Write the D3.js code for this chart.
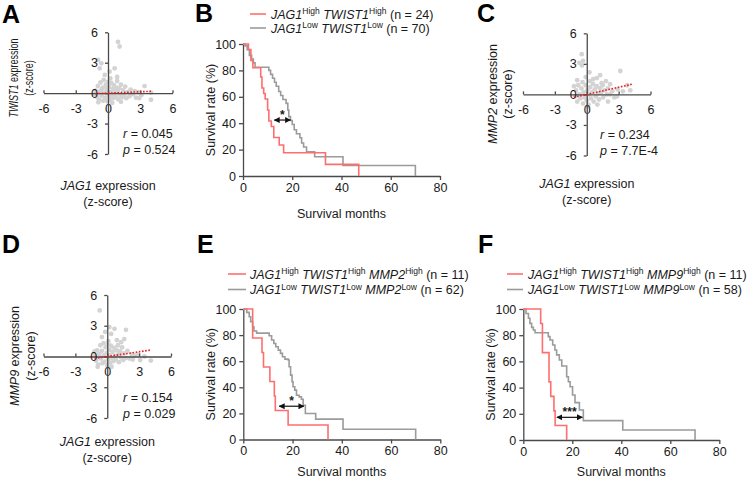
<!DOCTYPE html>
<html>
<head>
  <meta charset="utf-8">
  <title>JAG1 / TWIST1 correlation and survival</title>
  <script src="https://cdn.jsdelivr.net/npm/d3@7"></script>
  <style>
    body { margin: 0; background: #fff; }
    svg text { white-space: pre; }
  </style>
</head>
<body>
<svg id="fig" width="750" height="478"></svg>
<script>
// ---- scatter data (JAG1 z-score, target gene z-score) ----
var zTicks = [-6, -3, 0, 3, 6];

var scatterA = [
  [0.93,5.06],[1.08,4.6],[-0.93,3.27],[-0.62,2.94],[-0.77,2.45],[0.62,2.45],[0.15,2.12],[-0.3,1.8],[0.22,1.45],[0.85,1.6],
  [-1.15,0.25],[-1.05,-0.35],[-0.95,0.7],[-0.85,-0.65],[-0.75,0.15],[-0.7,1.05],[-0.6,-0.25],[-0.5,0.55],[-0.45,-0.75],[-0.4,1.3],
  [-0.3,0.05],[-0.25,-0.45],[-0.2,0.85],[-0.1,0.35],[-0.05,-0.8],[0.0,1.1],[0.05,-0.3],[0.1,0.6],[0.2,0.1],[0.25,-0.6],
  [0.3,1.0],[0.35,-0.2],[0.45,0.4],[0.5,-0.5],[0.55,0.8],[0.65,0.0],[0.7,-0.35],[0.75,0.55],[0.85,1.2],[0.9,0.2],
  [0.95,-0.6],[1.05,0.5],[1.1,-0.15],[1.2,0.85],[1.3,-0.4],[1.4,0.3],[1.5,-0.2],[1.6,0.65],[1.7,-0.5],[1.8,0.1],
  [2.0,-0.3],[2.1,0.35],[2.3,-0.1],[2.5,0.2],[2.6,-0.45],[2.8,0.1],[2.9,-0.5],[3.1,-0.2],[3.4,0.7],[4.0,0.05],[4.0,-0.65],
  [-1.2,-0.1],[-0.9,-0.9],[0.4,-0.95],[1.2,-0.85],[-0.6,0.35],[0.1,-0.1],[0.6,0.25],[-0.15,0.55]
];
var scatterC = [
  [-0.47,3.95],[-0.7,3.1],[-0.35,3.3],[-0.45,2.85],[0.25,2.17],[1.26,1.9],[0.95,1.6],[3.16,2.3],[1.4,1.1],[0.6,1.5],
  [-0.1,1.7],[0.3,1.3],[1.8,1.3],[2.2,1.0],[-1.1,-0.2],[-1.0,0.4],[-0.9,-0.7],[-0.8,0.9],[-0.7,0.0],[-0.6,-0.4],
  [-0.5,0.6],[-0.4,1.2],[-0.35,-0.9],[-0.3,0.2],[-0.2,-0.3],[-0.1,0.9],[0.0,-0.6],[0.05,0.4],[0.15,-1.0],[0.2,0.0],
  [0.3,0.7],[0.4,-0.4],[0.5,0.2],[0.6,1.0],[0.65,-0.7],[0.75,0.5],[0.85,-0.2],[0.95,0.8],[1.05,0.1],[1.15,-0.5],
  [1.25,0.6],[1.35,0.2],[1.5,0.9],[1.55,-0.3],[1.7,0.4],[1.9,0.0],[2.0,0.6],[2.2,0.0],[2.4,0.3],[2.6,-0.3],
  [2.85,-0.2],[2.9,0.5],[3.4,0.3],[3.8,0.9],[4.1,0.4],[-0.9,1.4],[0.1,-1.2],[1.0,-1.0],[2.0,-0.7],[-1.2,0.8]
];
var scatterD = [
  [-0.71,4.5],[0.2,2.87],[0.68,2.7],[1.76,2.6],[-0.5,1.9],[0.37,2.2],[1.6,1.7],[-0.2,2.4],[0.9,1.6],[0.1,1.5],
  [-1.15,0.1],[-1.05,-0.4],[-0.95,0.6],[-0.85,-0.8],[-0.75,0.25],[-0.65,1.1],[-0.6,-0.2],[-0.5,0.55],[-0.45,-0.65],[-0.35,1.3],
  [-0.3,0.1],[-0.25,-0.5],[-0.15,0.9],[-0.05,0.35],[0.0,-0.85],[0.05,1.15],[0.1,-0.25],[0.2,0.65],[0.25,0.1],[0.3,-0.6],
  [0.35,1.05],[0.45,-0.15],[0.5,0.45],[0.6,-0.45],[0.65,0.85],[0.75,0.05],[0.8,-0.3],[0.9,0.6],[1.0,1.1],[1.05,0.2],
  [1.1,-0.55],[1.2,0.5],[1.3,-0.1],[1.4,0.9],[1.5,-0.35],[1.6,0.3],[1.75,-0.15],[1.9,0.55],[2.1,-0.2],[2.3,0.2],
  [2.4,-0.3],[2.6,0.1],[2.9,0.2],[3.1,-0.35],[3.5,0.0],[4.1,-0.4],[-0.9,-1.0],[0.4,-1.0],[-1.2,0.5],[1.3,1.4]
];
var corrR = [0.045, 0.234, 0.154];
var corrRText = ["0.045", "0.234", "0.154"];
var corrPText = ["0.524", "7.7E-4", "0.029"];
var fitRange = [[-1.2, 4.1], [-1.2, 4.3], [-1.2, 4.1]];
var scatterGenes = ["TWIST1", "MMP2", "MMP9"];

// ---- Kaplan-Meier data (months, survival %) ----
var kmXTicks = [0, 20, 40, 60, 80];
var kmYTicks = [0, 20, 40, 60, 80, 100];

var bHighT = [0, 2.2, 3.2, 4.0, 7.2, 7.7, 8.4, 9.0, 10.0, 10.5, 11.5, 12.5, 14.7, 16.5, 33.5, 47];
var bHighS = [100, 95.8, 87.5, 82, 75, 66.7, 62.5, 58.3, 50, 41.7, 37.5, 29.2, 23.5, 17.6, 8.8, 0];
var bLowT = [0, 0.8, 1.7, 2.6, 3.5, 4.2, 4.9, 10.5, 11.2, 12.0, 12.8, 13.5, 14.5, 15.3, 16.2, 17.5, 18.2, 18.6, 19.3, 20.0, 20.8, 21.7, 23.1, 23.8, 24.6, 25.8, 29.1, 40.6, 70];
var bLowS = [100, 98.6, 95.7, 91.4, 88.6, 85.7, 82.4, 80, 77, 74, 71, 68, 64, 61, 58, 55, 50, 45, 42, 39, 35, 32, 29, 25, 22, 18.4, 14.6, 8, 0];

var eHighT = [0, 3.8, 7.6, 8.2, 10.8, 12.6, 13.0, 18.2, 34.4];
var eHighS = [100, 77.8, 66.7, 55.6, 44.4, 33.3, 22.2, 11.1, 0];
var eLowT = [0, 1.4, 2.4, 3.0, 3.8, 4.3, 5.4, 10.5, 11.5, 12.4, 13.2, 14.2, 15.1, 15.9, 16.9, 18.2, 18.6, 19.2, 19.8, 20.2, 20.9, 21.6, 22.7, 23.6, 24.3, 25.2, 29.4, 40.5, 70];
var eLowS = [100, 97.4, 94.1, 90.3, 86.4, 83.1, 81.5, 79.5, 76.2, 73.6, 71.1, 68.5, 66, 63.4, 61.6, 60.9, 55.7, 49.3, 44.2, 40.4, 37.8, 33.9, 32.7, 30.9, 26.3, 19.9, 15.6, 7.9, 0];

var fHighT = [0, 7.1, 7.8, 10.5, 11.2, 12.5, 13.0, 17.7];
var fHighS = [100, 88.9, 66.7, 44.4, 33.3, 22.2, 11.1, 0];
var fLowT = [0, 1.1, 2.1, 2.7, 3.4, 4.1, 4.8, 10.2, 10.9, 12.0, 12.9, 13.6, 14.7, 15.7, 17.7, 18.4, 19.1, 20.1, 21.1, 22.9, 24.5, 40.6, 70.1];
var fLowS = [100, 96.6, 92.9, 89, 86, 84, 81.9, 78.9, 76.3, 72.5, 68.7, 65, 61.1, 56.5, 48.3, 44.5, 40.6, 34.4, 28.5, 22.9, 14.8, 7.6, 0];

var groupN = [[24, 70], [11, 62], [11, 58]];
var extraGene = [null, "MMP2", "MMP9"];
// significance bracket: [from month, to month, at survival %], label
var sigArrow = [[12.3, 19.7, 42.4], [14.2, 25, 25.5], [13.3, 24.5, 17.3]];
var sigLabel = ["*", "*", "***"];

// ---- drawing ----
var FONT = '"Liberation Sans", Arial, Helvetica, sans-serif';
var AXIS = "#4a4a4a", INK = "#1a1a1a", DOT = "#d3d3d3", RED = "#ff6e6e", GREY = "#9b9b9b";
var FS = 12.5, SUP = 8.5;
var plain = function(d) { return String(d); };   // keep ASCII hyphen for negatives

var svg = d3.select("#fig").attr("font-family", FONT).attr("fill", INK);

var defs = svg.append("defs");
defs.append("marker").attr("id", "head")
  .attr("viewBox", "0 0 10 10").attr("refX", 9).attr("refY", 5)
  .attr("markerWidth", 5).attr("markerHeight", 5)
  .attr("orient", "auto-start-reverse")
  .append("path").attr("d", "M0,0 L10,5 L0,10 z").attr("fill", "#111");

// appends tspans: {t text, i italic, s superscript}
function rich(sel, segs) {
  var up = false;
  segs.forEach(function(s) {
    var t = sel.append("tspan").text(s.t);
    if (s.i) t.attr("font-style", "italic");
    if (s.s) {
      t.attr("font-size", SUP);
      if (!up) { t.attr("dy", -4.5); up = true; }
    } else if (up) {
      t.attr("dy", 4.5); up = false;
    }
  });
  return sel;
}

function styleAxis(g) {
  g.attr("font-family", FONT).attr("font-size", FS).attr("color", AXIS);
  g.selectAll("path, line").attr("stroke-width", 1.3);
  g.selectAll("text").attr("fill", INK);
}

function letter(txt, x, y) {
  svg.append("text").attr("x", x).attr("y", y)
    .attr("font-size", 25).attr("font-weight", "bold").attr("fill", "#000").text(txt);
}

function scatterPanel(o) {
  var x = d3.scaleLinear().domain([-6, 6]).range(o.xr);
  var y = d3.scaleLinear().domain([6, -6]).range(o.yr);
  var g = svg.append("g");

  g.append("g").selectAll("circle").data(o.pts).join("circle")
    .attr("cx", function(d) { return x(d[0]); })
    .attr("cy", function(d) { return y(d[1]); })
    .attr("r", 2.4).attr("fill", DOT);

  var gx = g.append("g").attr("transform", "translate(0," + y(0) + ")")
    .call(d3.axisBottom(x).tickValues(zTicks).tickFormat(plain)
      .tickSizeInner(-3).tickSizeOuter(0).tickPadding(11));
  var gy = g.append("g").attr("transform", "translate(" + x(0) + ",0)")
    .call(d3.axisLeft(y).tickValues(zTicks).tickFormat(plain)
      .tickSizeInner(3).tickSizeOuter(0).tickPadding(7));
  styleAxis(gx); styleAxis(gy);

  g.append("line")
    .attr("x1", x(o.fit[0])).attr("y1", y(o.r * o.fit[0]))
    .attr("x2", x(o.fit[1])).attr("y2", y(o.r * o.fit[1]))
    .attr("stroke", "#ee1c1c").attr("stroke-width", 1.6).attr("stroke-dasharray", "1.6,1.6");

  var st = g.append("g").attr("font-size", FS);
  rich(st.append("text").attr("x", o.statX).attr("y", o.statY),
    [{t: "r", i: 1}, {t: " = " + o.rText}]);
  rich(st.append("text").attr("x", o.statX).attr("y", o.statY + 15.5),
    [{t: "p", i: 1}, {t: " = " + o.pText}]);

  var yl = g.append("g").attr("font-size", FS).attr("text-anchor", "middle");
  rich(yl.append("text").attr("transform", "translate(" + o.yLab[0] + "," + o.yLab[2] + ") rotate(-90) scale(" + o.squeeze + ",1)"),
    [{t: o.gene, i: 1}, {t: " expression"}]);
  yl.append("text").attr("transform", "translate(" + o.yLab[1] + "," + o.yLab[2] + ") rotate(-90) scale(" + o.squeeze + ",1)")
    .text("(z-score)");

  var xl = g.append("g").attr("font-size", FS).attr("text-anchor", "middle");
  rich(xl.append("text").attr("x", x(0)).attr("y", o.xLab[0]),
    [{t: "JAG1", i: 1}, {t: " expression"}]);
  xl.append("text").attr("x", x(0)).attr("y", o.xLab[1]).text("(z-score)");
}

function kmPanel(o) {
  var x = d3.scaleLinear().domain([0, 80]).range(o.xr);
  var y = d3.scaleLinear().domain([0, 100]).range(o.yr);
  var g = svg.append("g");

  var gx = g.append("g").attr("transform", "translate(0," + y(0) + ")")
    .call(d3.axisBottom(x).tickValues(kmXTicks).tickSize(4).tickSizeOuter(0).tickPadding(3));
  var gy = g.append("g").attr("transform", "translate(" + x(0) + ",0)")
    .call(d3.axisLeft(y).tickValues(kmYTicks).tickSize(4).tickSizeOuter(0).tickPadding(3));
  styleAxis(gx); styleAxis(gy);

  var line = d3.line().curve(d3.curveStepAfter)
    .x(function(d) { return x(d[0]); })
    .y(function(d) { return y(d[1]); });
  var curves = [
    {t: o.lowT, s: o.lowS, c: GREY},
    {t: o.highT, s: o.highS, c: RED}
  ];
  g.selectAll("path.km").data(curves).join("path").attr("class", "km")
    .attr("d", function(c) { return line(d3.zip(c.t, c.s)); })
    .attr("fill", "none").attr("stroke", function(c) { return c.c; }).attr("stroke-width", 1.6);

  // significance arrow
  var a = o.sig;
  g.append("line")
    .attr("x1", x(a[0]) + 1).attr("x2", x(a[1]) - 1)
    .attr("y1", y(a[2])).attr("y2", y(a[2]))
    .attr("stroke", "#111").attr("stroke-width", 1.2)
    .attr("marker-start", "url(#head)").attr("marker-end", "url(#head)");
  g.append("text").attr("x", x((a[0] + a[1]) / 2)).attr("y", y(a[2]) - 1)
    .attr("text-anchor", "middle").attr("font-size", 12).attr("font-weight", "bold").text(o.sigText);

  // axis titles
  g.append("text").attr("font-size", FS).attr("text-anchor", "middle")
    .attr("transform", "translate(" + o.yLabX + "," + ((o.yr[0] + o.yr[1]) / 2) + ") rotate(-90)")
    .text("Survival rate (%)");
  g.append("text").attr("font-size", FS).attr("text-anchor", "middle")
    .attr("x", (o.xr[0] + o.xr[1]) / 2).attr("y", o.xLabY).text("Survival months");

  // legend
  var lg = g.append("g").attr("font-size", FS);
  ["High", "Low"].forEach(function(lvl, i) {
    var ly = o.leg[2] + i * o.leg[3];
    lg.append("line").attr("x1", o.leg[0]).attr("x2", o.leg[0] + o.leg[4])
      .attr("y1", ly).attr("y2", ly)
      .attr("stroke", i === 0 ? RED : GREY).attr("stroke-width", 1.6);
    var segs = [{t: "JAG1", i: 1}, {t: lvl, s: 1}, {t: " "}, {t: "TWIST1", i: 1}, {t: lvl, s: 1}];
    if (o.gene) segs.push({t: " "}, {t: o.gene, i: 1}, {t: lvl, s: 1});
    segs.push({t: " (n = " + o.n[i] + ")"});
    rich(lg.append("text").attr("x", o.leg[1]).attr("y", ly + 4.5), segs);
  });
}

// ---- panels ----
letter("A", 2, 23);
letter("B", 195, 22);
letter("C", 477, 22);
letter("D", 2, 253);
letter("E", 197, 253);
letter("F", 478, 253);

scatterPanel({pts: scatterA, r: corrR[0], rText: corrRText[0], pText: corrPText[0], fit: fitRange[0],
  gene: scatterGenes[0], xr: [43.5, 172.5], yr: [32.3, 154], statX: 123, statY: 138,
  yLab: [17.5, 33, 78], squeeze: 0.72, xLab: [190, 206]});
scatterPanel({pts: scatterC, r: corrR[1], rText: corrRText[1], pText: corrPText[1], fit: fitRange[1],
  gene: scatterGenes[1], xr: [523, 650.5], yr: [33.3, 155.5], statX: 600, statY: 139,
  yLab: [497, 512, 94], squeeze: 1, xLab: [188, 204]});
scatterPanel({pts: scatterD, r: corrR[2], rText: corrRText[2], pText: corrPText[2], fit: fitRange[2],
  gene: scatterGenes[2], xr: [43.5, 171], yr: [295, 418], statX: 123, statY: 402,
  yLab: [19, 35, 356], squeeze: 1, xLab: [446, 462]});

kmPanel({highT: bHighT, highS: bHighS, lowT: bLowT, lowS: bLowS, n: groupN[0], gene: extraGene[0],
  xr: [243, 440], yr: [176, 44], sig: sigArrow[0], sigText: sigLabel[0],
  yLabX: 215, xLabY: 218, leg: [250, 271, 14, 14, 16]});
kmPanel({highT: eHighT, highS: eHighS, lowT: eLowT, lowS: eLowS, n: groupN[1], gene: extraGene[1],
  xr: [243.3, 440.3], yr: [439.5, 309], sig: sigArrow[1], sigText: sigLabel[1],
  yLabX: 215, xLabY: 476, leg: [228, 250, 274, 15.5, 18]});
kmPanel({highT: fHighT, highS: fHighS, lowT: fLowT, lowS: fLowS, n: groupN[2], gene: extraGene[2],
  xr: [523.3, 719.3], yr: [440, 309], sig: sigArrow[2], sigText: sigLabel[2],
  yLabX: 495, xLabY: 476, leg: [507, 528, 274, 15.5, 16]});
</script>
</body>
</html>
